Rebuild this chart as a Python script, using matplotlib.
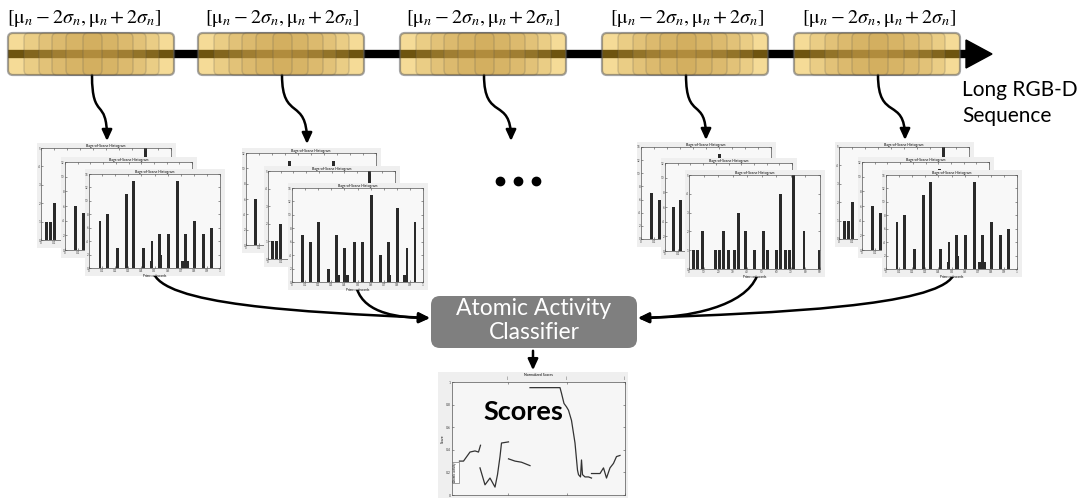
import matplotlib
matplotlib.use("Agg")
import matplotlib.pyplot as plt
from matplotlib.patches import FancyBboxPatch, FancyArrowPatch, Polygon
from matplotlib.path import Path
from matplotlib.colors import to_rgba

plt.rcParams['mathtext.fontset'] = 'stix'
plt.rcParams['font.family'] = ['Lato', 'DejaVu Sans']

W, H = 1081, 498

# ---------------- data ----------------
window_label = r"$[\mathrm{\mu}_n - 2\sigma_n, \mathrm{\mu}_n + 2\sigma_n]$"
window_centers = [91, 281, 483, 685, 877]
label_centers = [84, 282, 483, 687, 879]
dots_x = [500, 518, 536]

# histogram A (used by 1st and 4th stack)
ha_front_x = [0.084, 0.144, 0.215, 0.284, 0.342, 0.413, 0.473, 0.481, 0.539, 0.547,
              0.608, 0.678, 0.714, 0.737, 0.752, 0.808, 0.873, 0.937]
ha_front_h = [7, 8, 3, 11, 13, 3, 1, 4, 5, 2, 5, 13, 1, 5, 1, 7, 5, 6]
ha_mid_x = [0.081, 0.144, 0.608]
ha_mid_h = [6, 5, 11]
ha_back_x = [0.043, 0.076, 0.106, 0.805]
ha_back_h = [1, 1, 2, 5]

# histogram B (2nd stack)
hb_front_x = [0.077, 0.138, 0.204, 0.276, 0.337, 0.352, 0.403, 0.426, 0.474, 0.536,
              0.607, 0.676, 0.737, 0.745, 0.804, 0.862, 0.878, 0.939]
hb_front_h = [7, 6, 9, 2, 7, 1, 5, 1, 6, 6, 13, 4, 6, 1, 11, 1, 5, 9]
hb_mid_x = [0.033, 0.064, 0.097, 0.80]
hb_mid_h = [1, 1, 2, 5]
hb_back_x = [0.072, 0.333, 0.674]
hb_back_h = [6, 11, 11]

# histogram C (3rd stack, codeword index 0..90)
hc_front_x = [3, 6, 9, 18, 21, 24, 27, 31, 34, 39, 45, 51, 54, 60, 63, 66, 69, 72, 79, 89.5]
hc_front_h = [1, 1, 2, 1, 1, 2, 1, 1, 3, 2, 1, 2, 1, 1, 4, 1, 1, 5, 2, 1]
hc_mid_x = [0.064, 0.123, 0.326, 0.667]
hc_mid_h = [6, 7, 11, 11]
hc_back_x = [0.083, 0.141, 0.606]
hc_back_h = [7, 6, 13]

# classifier scores (frame, normalised score), broken into segments
s1_x = [15, 23, 36, 46, 53, 57]
s1_y = [0.30, 0.30, 0.38, 0.39, 0.38, 0.44]
s2_x = [56, 66, 76, 86, 91, 96, 99, 113]
s2_y = [0.24, 0.09, 0.15, 0.07, 0.18, 0.34, 0.46, 0.47]
s3_x = [113, 126, 139, 156]
s3_y = [0.32, 0.30, 0.29, 0.26]
s4_x = [156, 216, 219, 224, 229, 233, 239, 246, 251, 253, 257, 259, 261, 266, 273, 279]
s4_y = [0.95, 0.95, 0.90, 0.81, 0.78, 0.75, 0.66, 0.46, 0.22, 0.18, 0.16, 0.31, 0.18,
        0.16, 0.16, 0.15]
s5_x = [279, 296, 303, 309, 316, 323, 329, 336]
s5_y = [0.19, 0.19, 0.24, 0.15, 0.24, 0.28, 0.34, 0.35]
score_ticks = [0, 0.2, 0.4, 0.6, 0.8, 1.0]
boundary_frames = [112, 230, 346]

# ---------------- figure ----------------
fig = plt.figure(figsize=(W / 100, H / 100), dpi=100)
ax = fig.add_axes([0, 0, 1, 1])
ax.set_xlim(0, W)
ax.set_ylim(H, 0)
ax.axis('off')


def fig_rect(x0, y0, w, h):
    # pixel box (top-left origin) -> figure fraction
    return [x0 / W, 1 - (y0 + h) / H, w / W, h / H]


# timeline
ax.plot([8, 968], [54, 54], color='k', lw=6, solid_capstyle='butt', zorder=1)
ax.add_patch(Polygon([[966, 40], [992, 54], [966, 68]], closed=True, color='k', zorder=1))

inset_l = [0, 16, 31, 44, 58, 75]
inset_r = [0, 15, 28, 41, 56, 72]
for cx in window_centers:
    x0 = cx - 83
    for i, (l, r) in enumerate(zip(inset_l, inset_r)):
        if i == 0:
            fc, ec, lw = to_rgba('#EBB422', 0.47), (0.35, 0.35, 0.35, 0.55), 1.6
        else:
            fc, ec, lw = to_rgba('#CAA24F', 0.24), (0.3, 0.3, 0.3, 0.22), 1.0
        ax.add_patch(FancyBboxPatch((x0 + l, 33), 166 - l - r, 42,
                                    boxstyle='round,pad=0,rounding_size=5',
                                    facecolor=fc, edgecolor=ec, lw=lw, zorder=2 + i))

for lc in label_centers:
    ax.text(lc, 18, window_label, ha='center', va='center', fontsize=14.5)

ax.text(962, 90, 'Long RGB-D', fontsize=15, ha='left', va='center')
ax.text(962, 116, 'Sequence', fontsize=15, ha='left', va='center')


def curve(p0, p1, p2, p3, head=True):
    path = Path([p0, p1, p2, p3], [Path.MOVETO, Path.CURVE4, Path.CURVE4, Path.CURVE4])
    style = '-|>,head_length=0.65,head_width=0.3' if head else '-'
    ax.add_patch(FancyArrowPatch(path=path, arrowstyle=style, mutation_scale=10,
                                 color='k', lw=1.8, zorder=5))


# windows -> histograms
tips = [(107, 141), (307, 144), (511, 141), (706, 140), (905, 140)]
for cx, (tx, ty) in zip(window_centers, tips):
    curve((cx + 1, 75), (cx + 1, 122), (tx, 96), (tx, ty))

# histograms -> classifier
curve((153, 271), (160, 305), (300, 312), (430, 318))
curve((357, 289), (365, 314), (400, 318), (430, 318))
curve((757, 276), (745, 306), (690, 318), (638, 318))
curve((953, 276), (935, 306), (780, 313), (638, 318))
ax.add_patch(FancyArrowPatch((533, 348), (533, 373), arrowstyle='-|>,head_length=0.65,head_width=0.3',
                             mutation_scale=10, color='k', lw=1.8, zorder=5))

ax.plot(dots_x, [181] * len(dots_x), 'o', ms=6, color='k')

# classifier
ax.add_patch(FancyBboxPatch((431, 296), 206, 52, boxstyle='round,pad=0,rounding_size=9',
                            facecolor='#7f7f7f', edgecolor='none', zorder=3))
ax.text(534, 308, 'Atomic Activity', color='white', fontsize=16.5, ha='center', va='center', zorder=4)
ax.text(534, 332, 'Classifier', color='white', fontsize=16.5, ha='center', va='center', zorder=4)


def panel(x0, y0, w, h, xs, hs, ymax, xmax=1.0, xticks=None):
    bg = fig.add_axes(fig_rect(x0, y0, w, h))
    bg.set_facecolor('#efefef')
    bg.set_xticks([])
    bg.set_yticks([])
    for s in bg.spines.values():
        s.set_visible(False)
    hx = fig.add_axes(fig_rect(x0 + 4, y0 + 5, w - 9, h - 13))
    hx.bar(xs, hs, width=0.022 * xmax, color='#2a2a2a')
    hx.set_xlim(0, xmax)
    hx.set_ylim(0, ymax)
    hx.set_facecolor('#f8f8f8')
    if xticks is None:
        xticks = [i / 10 for i in range(11)]
    hx.set_xticks(xticks)
    hx.set_xticklabels([f'{t:g}' for t in xticks])
    hx.tick_params(direction='in', length=1.2, width=0.4, labelsize=2.2, pad=0.6,
                   top=True, right=True, colors='#444444')
    for s in hx.spines.values():
        s.set_linewidth(0.5)
        s.set_color('#555555')
    hx.set_title('Bags-of-Scene Histogram', fontsize=2.5, pad=1)
    hx.set_xlabel('Prime codewords', fontsize=2.2, labelpad=0.5)


def stack(pos, data):
    (bx, by), (mx, my), (fx, fy) = pos
    back, mid, front = data
    panel(bx, by, 139, 105, *back)
    panel(mx, my, 136, 101, *mid)
    panel(fx, fy, 140, 107, *front)


data_a = [(ha_back_x, ha_back_h, 5), (ha_mid_x, ha_mid_h, 12), (ha_front_x, ha_front_h, 14)]
data_b = [(hb_back_x, hb_back_h, 12), (hb_mid_x, hb_mid_h, 5), (hb_front_x, hb_front_h, 14)]
data_c = [(hc_back_x, hc_back_h, 14), (hc_mid_x, hc_mid_h, 12),
          (hc_front_x, hc_front_h, 5, 90, list(range(0, 100, 10)))]

stack([(37, 143), (61, 157), (85, 169)], data_a)
stack([(242, 148), (264, 166), (288, 183)], data_b)
stack([(637, 142), (661, 158), (685, 170)], data_c)
stack([(835, 142), (858, 157), (882, 170)], data_a)

# scores plot
sbg = fig.add_axes(fig_rect(438, 372, 190, 126))
sbg.set_facecolor('#efefef')
sbg.set_xticks([])
sbg.set_yticks([])
for s in sbg.spines.values():
    s.set_visible(False)
sx = fig.add_axes(fig_rect(452, 382, 173, 113))
sx.set_facecolor('#f6f6f6')
for xs, ys in [(s1_x, s1_y), (s2_x, s2_y), (s3_x, s3_y), (s4_x, s4_y), (s5_x, s5_y)]:
    sx.plot(xs, ys, color='#333333', lw=0.9)
sx.set_xlim(0, 346)
sx.set_ylim(0, 1)
sx.set_yticks(score_ticks)
sx.set_yticklabels([f'{t:g}' for t in score_ticks])
sx.set_xticks(boundary_frames)
sx.set_xticklabels([])
sx.tick_params(direction='in', length=1.5, width=0.4, labelsize=2.5, pad=0.8,
               top=True, right=True, colors='#444444')
for s in sx.spines.values():
    s.set_linewidth(0.5)
    s.set_color('#555555')
sx.set_title('Normalized Scores', fontsize=2.5, pad=4)
sx.set_ylabel('Score', fontsize=2.5, labelpad=1)
for bf in boundary_frames:
    sx.text(bf, 1.02, '||', fontsize=2.5, ha='center', va='bottom', color='#333333')
sx.text(0.02, 0.2, 'Atomic activity', transform=sx.transAxes, rotation=90, fontsize=2.2,
        ha='center', va='center', bbox=dict(fc='white', ec='#555555', lw=0.4, pad=0.8))

fig.text(523 / W, 1 - 412 / H, 'Scores', fontsize=19.5, fontweight='bold', ha='center', va='center')

fig.savefig('out.png', dpi=100)
